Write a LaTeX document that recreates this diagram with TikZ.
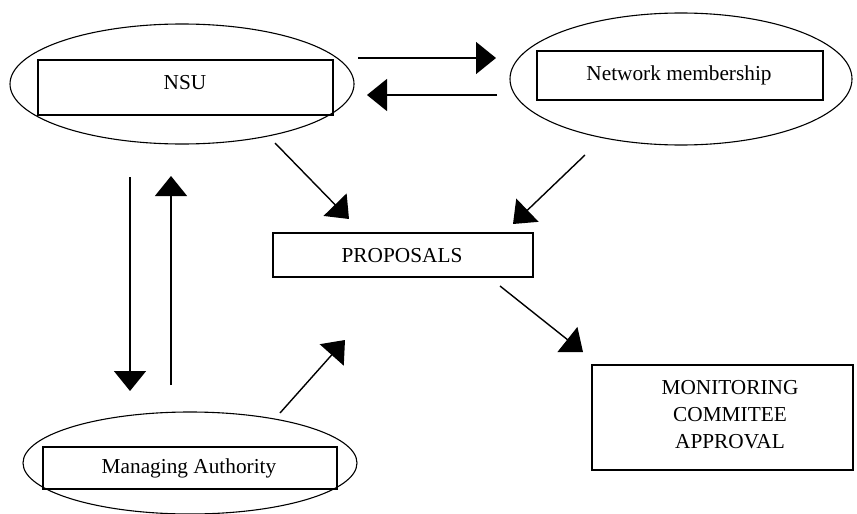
\documentclass[tikz,border=0pt]{standalone}
\usepackage{fontspec}
\setmainfont{Liberation Serif}
\usetikzlibrary{arrows.meta,shapes.geometric}
\begin{document}
\begin{tikzpicture}[x=1pt,y=-1pt,
  ell/.style={draw,ellipse,line width=1.1pt,inner sep=0pt},
  box/.style={draw,rectangle,line width=1.8pt,inner sep=0pt,font=\fontsize{21.3}{27}\selectfont,align=center},
  lbl/.style={font=\fontsize{21.3}{27}\selectfont,align=center},
  arr/.style={line width=1.4pt,-{Triangle[length=20pt,width=32pt]}}]
\useasboundingbox (0,0) rectangle (857,514);
% ellipses
\node[ell,minimum width=344pt,minimum height=120pt] (nsuE) at (182,84) {};
\node[ell,minimum width=342pt,minimum height=132pt] (netE) at (681,79) {};
\node[ell,minimum width=334pt,minimum height=102pt] (maE) at (190,463) {};
% boxes
\node[box,minimum width=295pt,minimum height=55pt] (nsu) at (185.5,87.5) {};
\node[lbl] (nsuT) at (185,83) {NSU};
\node[box,minimum width=286pt,minimum height=49pt] (net) at (680,75.5) {};
\node[lbl] (netT) at (679,75) {Network membership};
\node[box,minimum width=260pt,minimum height=44pt] (prop) at (403,255) {};
\node[lbl] (propT) at (402,256) {PROPOSALS};
\node[box,minimum width=294pt,minimum height=42pt] (ma) at (190,468) {};
\node[lbl] (maT) at (189,468) {Managing Authority};
\node[box,minimum width=261pt,minimum height=105pt] (mon) at (722.5,417.5) {};
\node[lbl] (monT) at (730,415) {MONITORING\\COMMITEE\\APPROVAL};
% connector end points
\coordinate (a1s) at (358,58);  \coordinate (a1e) at (496,58);
\coordinate (a2s) at (497,95);  \coordinate (a2e) at (367,95);
\coordinate (a3s) at (275,143); \coordinate (a3e) at (349,219);
\coordinate (a4s) at (585,155); \coordinate (a4e) at (513,224);
\coordinate (a5s) at (500,286); \coordinate (a5e) at (583,352);
\coordinate (a6s) at (130,177); \coordinate (a6e) at (130,391);
\coordinate (a7s) at (171,385); \coordinate (a7e) at (171,176);
\coordinate (a8s) at (280,413); \coordinate (a8e) at (345,340);
\draw[arr] (a1s) -- (a1e);
\draw[arr] (a2s) -- (a2e);
\draw[arr] (a3s) -- (a3e);
\draw[arr] (a4s) -- (a4e);
\draw[arr] (a5s) -- (a5e);
\draw[arr] (a6s) -- (a6e);
\draw[arr] (a7s) -- (a7e);
\draw[arr] (a8s) -- (a8e);
\end{tikzpicture}
\end{document}
